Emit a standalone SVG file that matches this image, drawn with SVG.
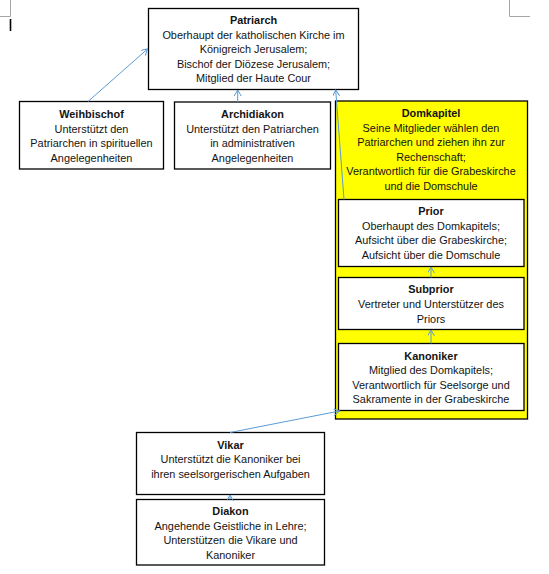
<svg xmlns="http://www.w3.org/2000/svg" width="549" height="574" viewBox="0 0 549 574">
  <defs>
    <style>
      .box { fill: #ffffff; stroke: #000000; stroke-width: 1.3; }
      .yellow { fill: #ffff00; stroke: #000000; stroke-width: 1.3; }
      text { font-family: "Liberation Sans", Arial, sans-serif; font-size: 10.9px; fill: #141414; text-anchor: middle; }
      .t { font-weight: bold; }
      .conn { fill: none; stroke: #5b9bd5; stroke-width: 1; marker-end: url(#arr); }
      .mark { fill: none; stroke: #a6a6a6; stroke-width: 1; }
    </style>
    <marker id="arr" markerUnits="userSpaceOnUse" markerWidth="10" markerHeight="10" refX="6" refY="3.5" orient="auto">
      <path d="M0,0 L6,3.5 L0,7" fill="none" stroke="#5b9bd5" stroke-width="1"/>
    </marker>
  </defs>

  <g id="page-marks">
    <path class="mark" d="M10.5,0 V16.5 H0"/>
    <path class="mark" d="M509.5,0 V16.5 H530"/>
    <line x1="10.5" y1="19" x2="10.5" y2="31" stroke="#000" stroke-width="1.6"/>
  </g>

  <g id="domkapitel">
    <rect class="yellow" x="335.5" y="101" width="192" height="318"/>
    <text class="t" x="431" y="117">Domkapitel</text>
    <text x="431" y="131.5">Seine Mitglieder wählen den</text>
    <text x="431" y="146">Patriarchen und ziehen ihn zur</text>
    <text x="431" y="160.5">Rechenschaft;</text>
    <text x="431" y="175">Verantwortlich für die Grabeskirche</text>
    <text x="431" y="189.5">und die Domschule</text>
  </g>

  <g id="patriarch">
    <rect class="box" x="148.5" y="8.5" width="210" height="81"/>
    <text class="t" x="253.5" y="24">Patriarch</text>
    <text x="253.5" y="38.6">Oberhaupt der katholischen Kirche im</text>
    <text x="253.5" y="53.2">Königreich Jerusalem;</text>
    <text x="253.5" y="67.8">Bischof der Diözese Jerusalem;</text>
    <text x="253.5" y="82.4">Mitglied der Haute Cour</text>
  </g>

  <g id="weihbischof">
    <rect class="box" x="19.5" y="101.5" width="144" height="67.5"/>
    <text class="t" x="91.5" y="118">Weihbischof</text>
    <text x="91.5" y="132.5">Unterstützt den</text>
    <text x="91.5" y="147">Patriarchen in spirituellen</text>
    <text x="91.5" y="161.5">Angelegenheiten</text>
  </g>

  <g id="archidiakon">
    <rect class="box" x="174.5" y="102" width="156" height="67"/>
    <text class="t" x="252.5" y="118">Archidiakon</text>
    <text x="252.5" y="132.5">Unterstützt den Patriarchen</text>
    <text x="252.5" y="147">in administrativen</text>
    <text x="252.5" y="161.5">Angelegenheiten</text>
  </g>

  <g id="prior">
    <rect class="box" x="338.5" y="199.5" width="185.5" height="67"/>
    <text class="t" x="431" y="215">Prior</text>
    <text x="431" y="229.8">Oberhaupt des Domkapitels;</text>
    <text x="431" y="244.4">Aufsicht über die Grabeskirche;</text>
    <text x="431" y="259">Aufsicht über die Domschule</text>
  </g>

  <g id="subprior">
    <rect class="box" x="338.5" y="277.5" width="185.5" height="52"/>
    <text class="t" x="431" y="293.4">Subprior</text>
    <text x="431" y="308">Vertreter und Unterstützer des</text>
    <text x="431" y="322.6">Priors</text>
  </g>

  <g id="kanoniker">
    <rect class="box" x="338.5" y="343.5" width="185.5" height="67"/>
    <text class="t" x="431" y="359.5">Kanoniker</text>
    <text x="431" y="374">Mitglied des Domkapitels;</text>
    <text x="431" y="388.6">Verantwortlich für Seelsorge und</text>
    <text x="431" y="403.2">Sakramente in der Grabeskirche</text>
  </g>

  <g id="vikar">
    <rect class="box" x="136.5" y="432.5" width="188" height="62"/>
    <text class="t" x="230.5" y="448.5">Vikar</text>
    <text x="230.5" y="463">Unterstützt die Kanoniker bei</text>
    <text x="230.5" y="477.6">ihren seelsorgerischen Aufgaben</text>
  </g>

  <g id="diakon">
    <rect class="box" x="136.5" y="499.5" width="188" height="65.5"/>
    <text class="t" x="230.5" y="515">Diakon</text>
    <text x="230.5" y="529.6">Angehende Geistliche in Lehre;</text>
    <text x="230.5" y="544.2">Unterstützen die Vikare und</text>
    <text x="230.5" y="558.8">Kanoniker</text>
  </g>

  <g id="connectors">
    <line class="conn" x1="88" y1="101.5" x2="147.5" y2="49"/>
    <line class="conn" x1="237.7" y1="102" x2="237.7" y2="90"/>
    <line class="conn" x1="344" y1="199.5" x2="335.7" y2="90"/>
    <line class="conn" x1="431" y1="277.5" x2="431" y2="267"/>
    <line class="conn" x1="431" y1="343.5" x2="431" y2="330"/>
    <line class="conn" x1="230" y1="432.5" x2="339.5" y2="411"/>
    <line class="conn" x1="230" y1="499.5" x2="230" y2="495"/>
  </g>
</svg>
